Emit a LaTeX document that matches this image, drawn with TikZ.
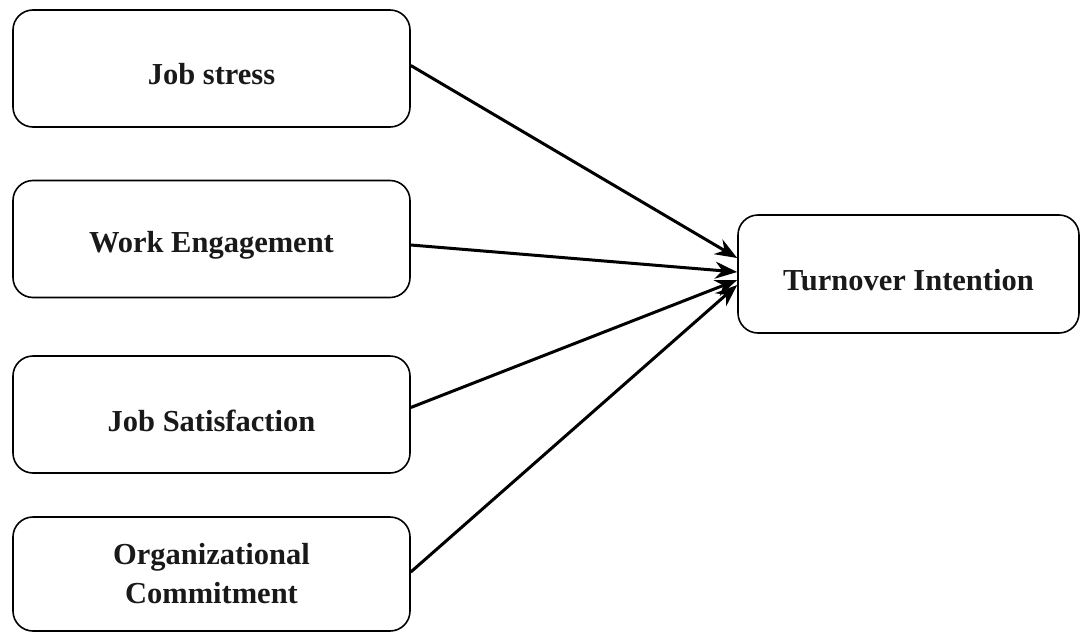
\documentclass[tikz,border=0pt]{standalone}
\usepackage{fontspec}
\setmainfont{Liberation Serif}
\usetikzlibrary{arrows.meta,calc}
\newcommand{\lowtext}[1]{\raisebox{-6pt}[\height][\depth]{#1}}
\tikzset{
  box/.style={draw=black, line width=1.6pt, rounded corners=20pt, fill=white,
    minimum width=397pt, minimum height=117pt, inner sep=0pt,
    align=center, font=\fontsize{30.5}{39}\selectfont\bfseries, text=black!90},
  link/.style={line width=3pt, -{Stealth[length=22pt,width=17pt]}}
}
\begin{document}
\begin{tikzpicture}[x=1pt,y=-1pt]
\useasboundingbox (0,0) rectangle (1081,632);
\node[box] (js) at (211.5,68.5) {\lowtext{Job stress}};
\node[box] (we) at (211.5,239) {\lowtext{Work Engagement}};
\node[box] (jsat) at (211.5,414.5) {\lowtext{Job Satisfaction}};
\node[box, minimum height=114pt] (oc) at (211.5,574) {Organizational\\Commitment};
\node[box, minimum width=341pt, minimum height=118pt] (ti) at (908.5,274) {\lowtext{Turnover Intention}};
\draw[link] ($(js.east)+(0,-3)$) -- ($(ti.west)+(0,-16)$);
\draw[link] ($(we.east)+(0,6)$) -- ($(ti.west)+(0,-2)$);
\draw[link] ($(jsat.east)+(0,-7)$) -- ($(ti.west)+(0,6)$);
\draw[link] ($(oc.east)+(0,-2)$) -- ($(ti.west)+(0,11)$);
\end{tikzpicture}
\end{document}
